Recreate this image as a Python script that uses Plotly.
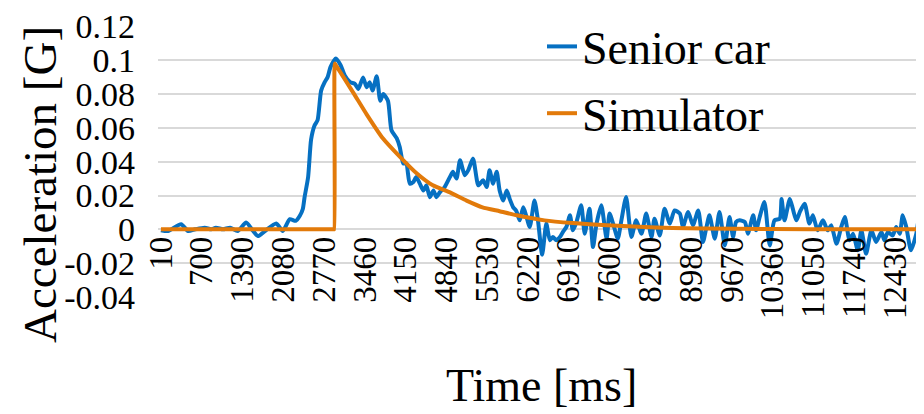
import plotly.graph_objects as go

# ---- data (time in ms, acceleration in G) ----
senior_time = [10, 130, 350, 470, 590, 750, 860, 940, 1060, 1180, 1310, 1450, 1570, 1650, 1770,
               1960, 2070, 2190, 2290, 2360, 2410, 2440, 2500, 2550, 2610, 2660, 2720, 2780, 2830,
               2880, 2970, 3050, 3120, 3210, 3290, 3350, 3430, 3490, 3540, 3590, 3660, 3720, 3770,
               3850, 3910, 4000, 4050, 4110, 4160, 4220, 4280, 4330, 4390, 4450, 4500, 4560, 4620,
               4670, 4730, 4810, 4900, 4950, 5010, 5070, 5150, 5210, 5290, 5380, 5460, 5520, 5570,
               5630, 5690, 5740, 5800, 5860, 5910, 5970, 6020, 6080, 6140, 6190, 6250, 6330, 6390,
               6460, 6530, 6590, 6640, 6700, 6760, 6810, 6870, 6930, 6980, 7040, 7120, 7180, 7260,
               7320, 7380, 7460, 7550, 7600, 7660, 7740, 7800, 7880, 7970, 8050, 8140, 8220, 8310,
               8360, 8450, 8530, 8620, 8700, 8790, 8840, 8930, 9010, 9100, 9180, 9240, 9290, 9380,
               9460, 9550, 9630, 9690, 9740, 9800, 9890, 9940, 10030, 10080, 10140, 10220, 10310,
               10390, 10480, 10510, 10560, 10650, 10700, 10760, 10820, 10900, 10980, 11040, 11120,
               11210, 11290, 11350, 11440, 11520, 11580, 11660, 11720, 11800, 11860, 11940, 12030,
               12110, 12200, 12250, 12310, 12390, 12450, 12510, 12560, 12620, 12700, 12790, 12840,
               12900]
senior_acc = [-0.0005, -0.001, 0.003, -0.001, 0.0, 0.001, 0.0, 0.001, 0.0, 0.001, -0.001, 0.004,
              -0.001, -0.004, -0.001, 0.0035, -0.001, 0.006, 0.005, 0.008, 0.012, 0.019, 0.031, 0.053,
              0.0615, 0.0645, 0.082, 0.087, 0.090, 0.096, 0.101, 0.097, 0.091, 0.087, 0.086, 0.083,
              0.0898, 0.084, 0.087, 0.082, 0.0905, 0.076, 0.080, 0.076, 0.0586, 0.0537, 0.0487, 0.039,
              0.039, 0.027, 0.028, 0.031, 0.027, 0.023, 0.026, 0.019, 0.023, 0.019, 0.022, 0.025,
              0.031, 0.034, 0.030, 0.0408, 0.032, 0.035, 0.0418, 0.026, 0.029, 0.025, 0.035, 0.027,
              0.034, 0.023, 0.017, 0.023, 0.018, 0.013, 0.011, 0.0053, 0.013, 0.008, 0.0014, 0.017,
              0.005, -0.015, 0.0034, -0.0065, -0.0045, -0.0065, -0.0045, -0.0016, 0.0014, 0.0083,
              -0.0006, 0.0043, 0.0142, -0.0026, 0.0122, -0.0105, 0.0034, 0.0142, -0.0055, 0.0093,
              0.0034, -0.0055, 0.0053, 0.0191, -0.0045, 0.0053, -0.0026, 0.0093, -0.0045, 0.0063,
              -0.0036, 0.0122, 0.0034, 0.0112, 0.0093, 0.0014, 0.0103, 0.0024, 0.0112, -0.0075,
              0.0014, 0.0083, -0.0055, 0.0103, -0.0095, 0.0073, -0.0045, 0.0043, 0.0053, 0.0043,
              -0.0026, 0.0083, -0.0006, 0.0073, 0.0162, -0.0095, 0.0053, 0.0063, 0.018, 0.0053,
              0.018, 0.0122, 0.0053, 0.0103, 0.0152, 0.0034, 0.0083, -0.0006, 0.0053, -0.0006,
              0.0024, -0.0085, 0.0014, 0.0073, -0.0065, -0.0026, -0.0124, -0.0006, -0.0144, -0.0006,
              -0.0075, -0.0016, -0.0065, -0.0016, -0.0036, 0.0014, -0.0026, 0.0083, 0.0014, -0.0124,
              -0.0026, 0.0073, 0.0014]

sim_time = [10, 2930, 2940, 2950, 2960, 3260, 3490, 3760, 4050, 4340, 4610, 4890, 5180, 5450,
            5740, 6030, 6500, 6980, 7550, 8100, 8660, 9710, 11000, 12900]
sim_acc = [0.0, 0.0, 0.0, 0.098, 0.0975, 0.081, 0.068, 0.054, 0.043, 0.033, 0.026, 0.022, 0.017,
           0.013, 0.0107, 0.0083, 0.0053, 0.0037, 0.0024, 0.0015, 0.0008, 0.0003, 0.0001, 0.0]

x_tick_vals = [10 + 690 * k for k in range(19)]
x_tick_text = [str(v) for v in x_tick_vals]
y_tick_vals = [-0.04, -0.02, 0, 0.02, 0.04, 0.06, 0.08, 0.1, 0.12]
y_tick_text = ["-0.04", "-0.02", "0", "0.02", "0.04", "0.06", "0.08", "0.1", "0.12"]

BLUE = "#0670C2"
ORANGE = "#E27A0A"
FONT = "Liberation Serif, Times New Roman, serif"

# page body has an 8px margin: figure is sized/offset to compensate
W, H = 916, 406
ML, MT, MB = 150, 18, 117
PW, PH = W - ML, H - MT - MB


def px_x(win_x):
    return (win_x - 8 - ML) / PW


def px_y(win_y):
    return (H - MB - (win_y - 8)) / PH


fig = go.Figure()
fig.add_trace(go.Scatter(x=senior_time, y=senior_acc, mode="lines", name="Senior car",
                         line=dict(color=BLUE, width=4, shape="spline", smoothing=0.6),
                         legendgroup="a"))
fig.add_trace(go.Scatter(x=sim_time, y=sim_acc, mode="lines", name="Simulator",
                         line=dict(color=ORANGE, width=4, shape="spline", smoothing=0.5),
                         legendgroup="b"))

fig.update_layout(
    width=W, height=H,
    margin=dict(l=ML, r=0, t=MT, b=MB, autoexpand=False),
    paper_bgcolor="white", plot_bgcolor="white",
    font=dict(family=FONT, color="black", size=34),
    showlegend=True,
    legend=dict(x=px_x(542), y=px_y(10), xanchor="left", yanchor="top",
                font=dict(family=FONT, size=46, color="black"),
                bgcolor="rgba(0,0,0,0)", tracegroupgap=4, itemwidth=30),
    xaxis=dict(range=[-40, 12920], tickmode="array", tickvals=x_tick_vals, ticktext=x_tick_text,
               tickangle=-90, showgrid=False, zeroline=False, showline=False, ticks="",
               anchor="free", position=0.25, tickfont=dict(size=33, family=FONT),
               automargin=False),
    yaxis=dict(range=[-0.04, 0.1202], tickmode="array", tickvals=y_tick_vals, ticktext=y_tick_text,
               showgrid=True, gridcolor="#D9D9D9", gridwidth=2, zeroline=True,
               zerolinecolor="#D9D9D9", zerolinewidth=2, showline=False, ticks="",
               ticklabelstandoff=22, tickfont=dict(size=34, family=FONT), automargin=False),
)

fig.add_annotation(text="Acceleration [G]", xref="paper", yref="paper",
                   x=px_x(40), y=px_y(185), showarrow=False, textangle=-90,
                   font=dict(family=FONT, size=47, color="black"),
                   xanchor="center", yanchor="middle")
fig.add_annotation(text="Time [ms]", xref="paper", yref="paper",
                   x=px_x(541), y=px_y(385), showarrow=False,
                   font=dict(family=FONT, size=46, color="black"),
                   xanchor="center", yanchor="middle")

fig.write_html("out.html")
